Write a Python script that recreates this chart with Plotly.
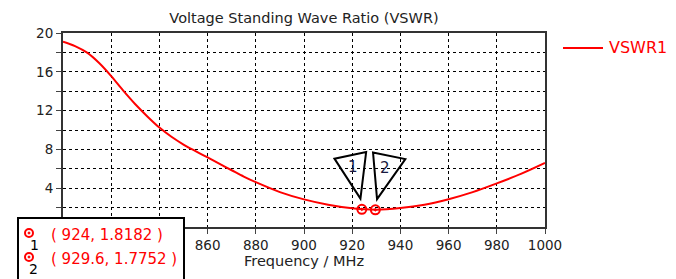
import plotly.graph_objects as go

# ---- data ----
freq = [800, 805, 810, 815, 820, 825, 830, 835, 840, 845, 850, 855, 860, 865, 870, 875, 880,
        890, 900, 910, 920, 930, 940, 950, 960, 970, 980, 990, 1000]
vswr = [19.1, 18.65, 17.97, 16.9, 15.55, 14.05, 12.65, 11.4, 10.25, 9.3, 8.5, 7.82, 7.17, 6.5,
        5.85, 5.2, 4.62, 3.6, 2.85, 2.3, 1.93, 1.78, 1.95, 2.3, 2.87, 3.6, 4.5, 5.47, 6.6]
mk_names = ["1", "2"]
mk_freq = [924, 929.6]
mk_vswr = [1.8182, 1.7752]
x_ticks = [800, 820, 840, 860, 880, 900, 920, 940, 960, 980, 1000]
x_labels = ["", "", "", "860", "880", "900", "920", "940", "960", "980", "1000"]
y_ticks = [0, 2, 4, 6, 8, 10, 12, 14, 16, 18, 20]
y_labels = ["", "", "4", "", "8", "", "12", "", "16", "", "20"]
series_name = "VSWR1"

FONT = "DejaVu Sans"
RED = "#ff0000"
TXT = "#222222"
OFF = 8  # page body margin

fig = go.Figure()
fig.add_trace(go.Scatter(x=freq, y=vswr, mode="lines", name=series_name, showlegend=False,
                         line=dict(color=RED, width=2, shape="spline", smoothing=0.9)))
fig.add_trace(go.Scatter(x=mk_freq, y=mk_vswr, mode="markers", showlegend=False,
                         marker=dict(symbol="circle-open-dot", size=9, color=RED,
                                     line=dict(color=RED, width=2))))

shapes = []
annotations = []
# callout triangles (pixel offsets anchored at each marker)
tri = [
    [(-1.4, 10.7), (-27.4, 50.7), (4.3, 57.3)],
    [(1.7, 10.7), (-2.3, 57.3), (30, 50.7)],
]
lab_off = [(-9, 42), (10, 42)]
for i in range(2):
    p = tri[i]
    path = "M %g,%g L %g,%g L %g,%g Z" % (p[0][0], p[0][1], p[1][0], p[1][1], p[2][0], p[2][1])
    shapes.append(dict(type="path", xref="x", yref="y", xsizemode="pixel", ysizemode="pixel",
                       xanchor=mk_freq[i], yanchor=mk_vswr[i], path=path,
                       line=dict(color="black", width=2), fillcolor="rgba(0,0,0,0)", layer="above"))
    annotations.append(dict(x=mk_freq[i], y=mk_vswr[i], xref="x", yref="y", text=mk_names[i],
                            showarrow=False, xshift=lab_off[i][0], yshift=lab_off[i][1],
                            font=dict(family=FONT, size=15, color="#1a1a40")))

# pixel -> paper helpers (plot area 63..545 x 33..227 in screenshot pixels)
def px(xp):
    return (xp - 63) / 482.0

def py(yp):
    return (227 - yp) / 194.0

# marker readout box
shapes.append(dict(type="rect", xref="paper", yref="paper", x0=px(18), x1=px(184), y0=py(218), y1=py(290),
                   line=dict(color="black", width=2), fillcolor="white", layer="above"))
for i in range(2):
    cy = 233 + 24 * i
    shapes.append(dict(type="circle", xref="paper", yref="paper", xsizemode="pixel", ysizemode="pixel",
                       xanchor=px(29), yanchor=py(cy), x0=-4, x1=4, y0=-4, y1=4,
                       line=dict(color=RED, width=2), fillcolor="white", layer="above"))
    shapes.append(dict(type="circle", xref="paper", yref="paper", xsizemode="pixel", ysizemode="pixel",
                       xanchor=px(29), yanchor=py(cy), x0=-1, x1=1, y0=-1, y1=1,
                       line=dict(color=RED, width=1), fillcolor=RED, layer="above"))
    annotations.append(dict(x=px(34 - i), y=py(cy + 12), xref="paper", yref="paper", text=mk_names[i],
                            showarrow=False, xanchor="center", yanchor="middle",
                            font=dict(family=FONT, size=14, color="black")))
    annotations.append(dict(x=px(49), y=py(cy + 2), xref="paper", yref="paper",
                            text="( %g, %g )" % (mk_freq[i], mk_vswr[i]),
                            showarrow=False, xanchor="left", yanchor="middle",
                            font=dict(family=FONT, size=15, color=RED)))

# manual legend
shapes.append(dict(type="line", xref="paper", yref="paper", x0=px(563), x1=px(603), y0=py(48), y1=py(48),
                   line=dict(color=RED, width=2)))
annotations.append(dict(x=px(607), y=py(48), xref="paper", yref="paper", text=series_name,
                        showarrow=False, xanchor="left", yanchor="middle",
                        font=dict(family=FONT, size=16, color=RED)))

W, H = 676 - OFF, 279 - OFF
fig.update_layout(
    width=W, height=H,
    margin=dict(l=63 - OFF, r=676 - 545, t=33 - OFF, b=279 - 227, autoexpand=False),
    paper_bgcolor="white", plot_bgcolor="white",
    font=dict(family=FONT, size=13, color=TXT),
    title=dict(text="Voltage Standing Wave Ratio (VSWR)", x=(304 - OFF) / W, xanchor="center",
               y=1 - (18 - OFF) / H, yanchor="middle", font=dict(family=FONT, size=14.5, color=TXT)),
    showlegend=False,
    shapes=shapes, annotations=annotations,
)
fig.update_xaxes(range=[800, 1000], tickvals=x_ticks, ticktext=x_labels, ticks="outside", ticklen=5,
                 tickcolor="#444", showline=True, linecolor="#333", linewidth=2, mirror=True, automargin=False,
                 showgrid=True, gridcolor="black", gridwidth=1, griddash="3px,3px",
                 zeroline=False, title=dict(text="Frequency / MHz", standoff=4, font=dict(size=14.5, color=TXT)),
                 tickfont=dict(size=13.5, color=TXT))
fig.update_yaxes(range=[0, 20], tickvals=y_ticks, ticktext=y_labels,
                 ticks="outside", ticklen=5, tickcolor="#444",
                 showline=True, linecolor="#333", linewidth=2, mirror=True, automargin=False,
                 showgrid=True, gridcolor="black", gridwidth=1, griddash="3px,3px",
                 zeroline=False, tickfont=dict(size=13.5, color=TXT))

fig.write_html("out.html")
